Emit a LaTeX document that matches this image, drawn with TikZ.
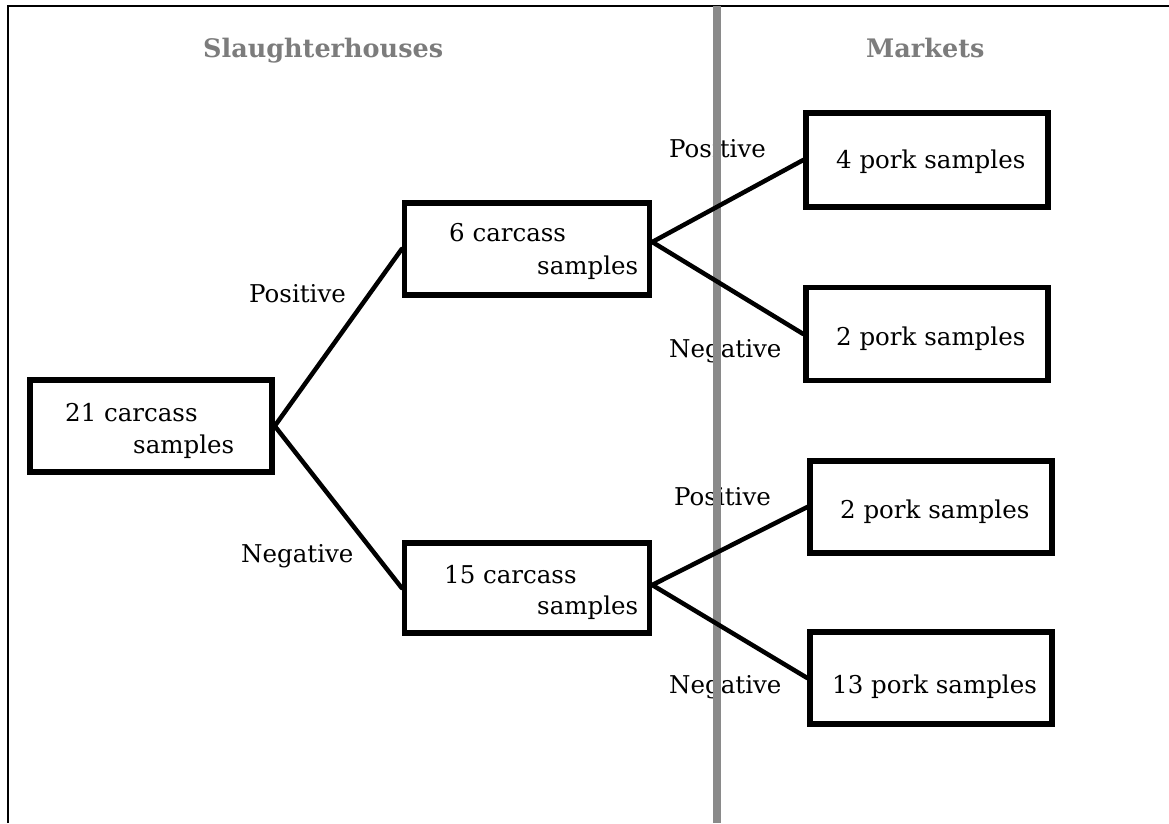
\documentclass[tikz,border=0pt]{standalone}
\usepackage{fontspec}
\setmainfont{DejaVu Serif}
\definecolor{divgray}{HTML}{8A8A8A}
\definecolor{titlegray}{HTML}{7C7C7C}
\begin{document}
\begin{tikzpicture}[x=1pt,y=-1pt,
  box/.style={draw=black,line width=5.5pt,minimum width=240pt,minimum height=90pt,inner sep=0pt},
  txt/.style={font=\fontsize{24.5}{30}\selectfont,inner sep=0pt,anchor=base west},
  ttl/.style={font=\fontsize{25.5}{30}\bfseries\selectfont,text=titlegray,inner sep=0pt,anchor=base west},
  conn/.style={line width=4.5pt,black,line cap=round}]
\useasboundingbox (0,0) rectangle (1169,823);
% frame
\draw[line width=2.5pt] (8,823) -- (8,6) -- (1169,6);
% titles
\node[ttl] (tS) at (203,57) {Slaughterhouses};
\node[ttl] (tM) at (866,57) {Markets};
% boxes
\node[box,minimum width=242pt,minimum height=92pt] (n21) at (151,426) {};
\node[box,minimum width=245pt,minimum height=92pt] (n6) at (527,249) {};
\node[box,minimum width=245pt,minimum height=90pt] (n15) at (527,588) {};
\node[box,minimum width=242pt,minimum height=94pt] (p4) at (927,160) {};
\node[box,minimum width=242pt,minimum height=93pt] (p2a) at (927,334) {};
\node[box,minimum width=242pt,minimum height=92pt] (p2b) at (931,507) {};
\node[box,minimum width=242pt,minimum height=92pt] (p13) at (931,678) {};
% box texts
\node[txt] (t21a) at (65,421) {21 carcass};
\node[txt] (t21b) at (133,453) {samples};
\node[txt] (t6a) at (449,241) {6 carcass};
\node[txt] (t6b) at (537,274) {samples};
\node[txt] (t15a) at (444,583) {15 carcass};
\node[txt] (t15b) at (537,614) {samples};
\node[txt] (tp4) at (836,168) {4 pork samples};
\node[txt] (tp2a) at (836,345) {2 pork samples};
\node[txt] (tp2b) at (840,518) {2 pork samples};
\node[txt] (tp13) at (832,693) {13 pork samples};
% branch labels
\node[txt] (l1) at (249,302) {Positive};
\node[txt] (l2) at (241,562) {Negative};
\node[txt] (l3) at (669,157) {Positive};
\node[txt] (l4) at (669,357) {Negative};
\node[txt] (l5) at (674,505) {Positive};
\node[txt] (l6) at (669,693) {Negative};
% divider
\coordinate (dtop) at (717,6);
\coordinate (dbot) at (717,823);
\draw[divgray,line width=8pt] (dtop) -- (dbot);
% connectors
\draw[conn] (n21.east) -- (n6.west);
\draw[conn] (n21.east) -- (n15.west);
\draw[conn] ([yshift=7pt]n6.east) -- (p4.west);
\draw[conn] ([yshift=7pt]n6.east) -- (p2a.west);
\draw[conn] ([yshift=3pt]n15.east) -- (p2b.west);
\draw[conn] ([yshift=3pt]n15.east) -- (p13.west);
\end{tikzpicture}
\end{document}
